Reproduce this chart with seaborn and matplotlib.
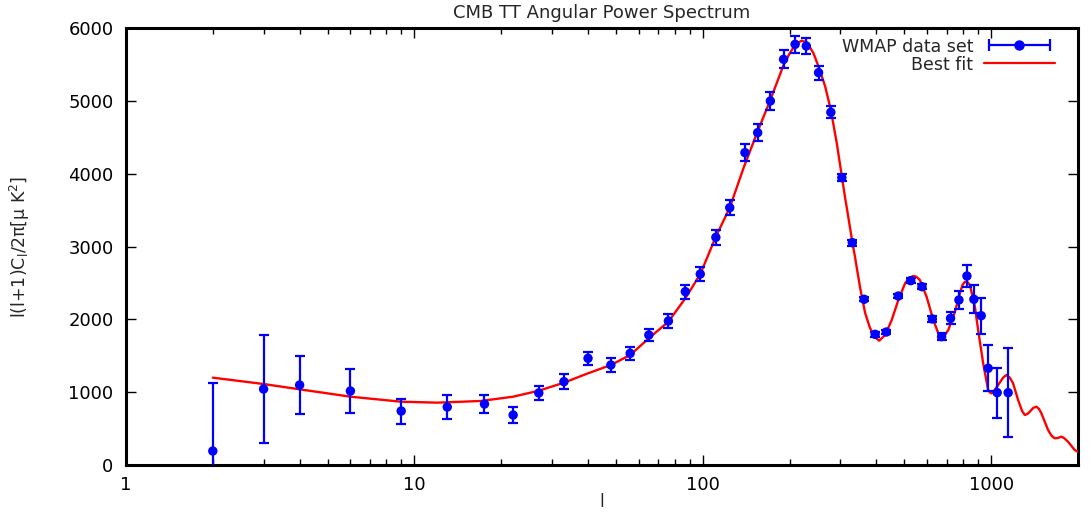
import numpy as np
import pandas as pd
import matplotlib
matplotlib.use("Agg")
import matplotlib.pyplot as plt
import seaborn as sns
from matplotlib.lines import Line2D
from matplotlib.legend_handler import HandlerLine2D, HandlerTuple
from matplotlib.ticker import LogLocator, FixedLocator, NullFormatter

# ---- data ----
l_data = [2, 3, 4, 6, 9, 13, 17.5, 22, 27, 33, 40, 48, 56, 65, 76, 87, 98, 111,
          124, 140, 155, 171.5, 190.6, 209, 228.5, 252, 278, 303.5, 330, 362.6,
          396, 433, 476.5, 526, 575.6, 625, 673, 723, 773, 824, 871, 923.5, 976,
          1049, 1145]
cl_data = [192, 1043, 1098, 1016, 741, 796, 837, 686, 989, 1144, 1465, 1373,
           1533, 1785, 1977, 2380, 2622, 3126, 3533, 4289, 4563, 4998, 5570,
           5776, 5753, 5387, 4843, 3945, 3053, 2275, 1794, 1826, 2320, 2531,
           2448, 2005, 1762, 2014, 2266, 2595, 2275, 2050, 1328, 993, 993]
cl_err = [935, 740, 400, 302, 172, 168, 118, 114, 101, 103, 92, 92, 92, 87, 92,
          98, 98, 103, 105, 115, 120, 119, 124, 115, 108, 97, 85, 50, 40, 30,
          30, 30, 30, 35, 35, 40, 50, 80, 120, 150, 190, 245, 315, 345, 610]

l_fit = [2, 3, 4, 6, 9, 12, 17, 22, 27, 33, 40, 48, 56, 65, 76, 87, 98, 111,
         124, 139, 154, 171.5, 190.6, 200, 209, 220, 230, 242, 252, 265.8, 278,
         291.5, 303.5, 311.6, 320, 330, 337.6, 351.3, 365.6, 380, 396, 409, 429,
         452, 476.5, 503, 520, 537, 550, 566, 597, 630, 655.6, 673, 690, 710,
         749, 779, 795, 811, 828, 844, 878, 901, 938, 976, 990, 1002, 1025,
         1057, 1100, 1130, 1160, 1191, 1240, 1280, 1308, 1335, 1361, 1400, 1435,
         1465, 1493, 1575, 1620, 1661, 1700, 1751, 1790, 1847, 1948, 2000]
cl_fit = [1199, 1112, 1039, 938, 869, 856, 879, 938, 1020, 1130, 1259, 1373,
          1510, 1740, 1968, 2289, 2620, 3135, 3533, 4097, 4554, 5012, 5492,
          5650, 5767, 5826, 5800, 5653, 5470, 5195, 4874, 4417, 3963, 3666,
          3391, 3062, 2842, 2430, 2087, 1881, 1753, 1707, 1785, 1991, 2266,
          2495, 2570, 2595, 2585, 2540, 2311, 1991, 1808, 1753, 1780, 1854,
          2105, 2358, 2470, 2517, 2510, 2471, 2174, 1854, 1396, 1030, 995, 984,
          1020, 1098, 1200, 1236, 1200, 1122, 892, 740, 687, 700, 732, 785, 801,
          770, 710, 481, 400, 367, 370, 389, 370, 320, 206, 180]

x_ticks = [1, 10, 100, 1000]
y_ticks = [0, 1000, 2000, 3000, 4000, 5000, 6000]

sns.set_theme(style="white")
plt.rcParams['font.family'] = ['DejaVu Sans']

fig = plt.figure(figsize=(10.92, 5.12), dpi=100)
ax = fig.add_axes([126/1092, 1-465/512, (1078-126)/1092, (465-28)/512])

df_fit = pd.DataFrame({"l": l_fit, "cl": cl_fit})
df_data = pd.DataFrame({"l": l_data, "cl": cl_data, "err": cl_err})

sns.lineplot(data=df_fit, x="l", y="cl", color="#ff0000", lw=1.7, ax=ax,
             sort=False, legend=False, zorder=3)
ax.errorbar(df_data["l"], df_data["cl"], yerr=df_data["err"], fmt="none",
            ecolor="#0000ff", elinewidth=1.6, capsize=3.8, capthick=1.6, zorder=4)
sns.scatterplot(data=df_data, x="l", y="cl", color="#0000ff", s=46,
                edgecolor="none", ax=ax, legend=False, zorder=5)

ax.set_xscale("log")
ax.set_xlim(1, 2000)
ax.set_ylim(0, 6000)
ax.xaxis.set_major_locator(FixedLocator(x_ticks))
ax.set_xticklabels([str(t) for t in x_ticks])
ax.xaxis.set_minor_locator(LogLocator(base=10, subs=np.arange(2, 10)))
ax.xaxis.set_minor_formatter(NullFormatter())
ax.yaxis.set_major_locator(FixedLocator(y_ticks))
ax.set_yticklabels([str(t) for t in y_ticks])

for s in ax.spines.values():
    s.set_linewidth(2.2)
    s.set_color("black")
ax.tick_params(axis="both", which="both", direction="in", top=True, right=True,
               bottom=True, left=True, colors="black", labelsize=13)
ax.tick_params(which="major", length=7, width=1.0)
ax.tick_params(which="minor", length=4, width=1.0)
ax.tick_params(axis="x", pad=8)
ax.tick_params(axis="y", pad=9)

ax.set_xlabel("l", fontsize=12, labelpad=-1)
ax.set_ylabel(r"l(l+1)C$_\mathregular{l}$/2π[μ K$^\mathregular{2}$]", fontsize=12.5,
              labelpad=26)
ax.set_title("CMB TT Angular Power Spectrum", fontsize=13, pad=7)

# legend handles (gnuplot style: sample on the right of the text)
cap_line = Line2D([], [], color="#0000ff", lw=1.6, marker="|", markersize=8,
                  markeredgewidth=1.6)
dot_line = Line2D([], [], color="#0000ff", lw=0, marker="o", markersize=6.5)
fit_line = Line2D([], [], color="#ff0000", lw=1.6)
leg = ax.legend([(cap_line, dot_line), fit_line], ["WMAP data set", "Best fit"],
                handler_map={cap_line: HandlerLine2D(numpoints=2),
                             dot_line: HandlerLine2D(numpoints=1),
                             tuple: HandlerTuple(ndivide=1)},
                loc="upper right", bbox_to_anchor=(0.985, 0.998), frameon=False,
                markerfirst=False, alignment="right", fontsize=12.5,
                handlelength=4.1, handletextpad=0.6, labelspacing=0.0,
                borderaxespad=0.1)

fig.savefig("out.png", dpi=100)
